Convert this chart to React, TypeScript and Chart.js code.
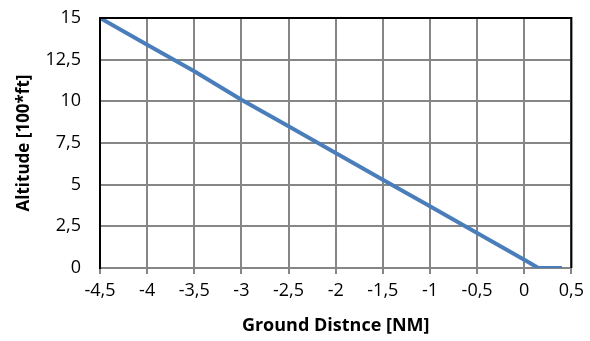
import React, { useEffect, useRef } from "react";
import { Chart, registerables } from "chart.js";

Chart.register(...registerables);

const distances: number[] = [-4.5, -4, -3.5, -3, -2.5, -2, -1.5, -1, -0.5, 0, 0.15, 0.4];
const altitudes: number[] = [15.0, 13.4, 11.8, 10.1, 8.5, 6.9, 5.3, 3.7, 2.1, 0.5, 0, 0];

const xTickValues: number[] = [-4.5, -4, -3.5, -3, -2.5, -2, -1.5, -1, -0.5, 0, 0.5];
const yTickValues: number[] = [0, 2.5, 5, 7.5, 10, 12.5, 15];

const xTitle = "Ground Distnce [NM]";
const yTitle = "Altitude [100*ft]";

const fmt = (v: number) => String(v).replace(".", ",");

export default function App() {
  const ref = useRef<HTMLCanvasElement>(null);
  useEffect(() => {
    document.body.style.margin = "0";
    const ctx = ref.current!;
    const font = "'Open Sans', 'Liberation Sans', sans-serif";
    const chart = new Chart(ctx, {
      type: "scatter",
      data: {
        datasets: [
          {
            data: distances.map((d, i) => ({ x: d, y: altitudes[i] })),
            showLine: true,
            borderColor: "#4A7EBB",
            borderWidth: 4,
            pointRadius: 0,
            tension: 0,
          },
        ],
      },
      options: {
        animation: false,
        responsive: false,
        devicePixelRatio: 1,
        layout: { padding: { left: 0, right: 18, top: 18, bottom: 4 } },
        plugins: { legend: { display: false }, tooltip: { enabled: false } },
        scales: {
          x: {
            type: "linear",
            min: -4.5,
            max: 0.5,
            afterBuildTicks: (s: any) => {
              s.ticks = xTickValues.map((v) => ({ value: v }));
            },
            afterFit: (s: any) => {
              s.height = 69;
            },
            border: { color: "#868686", width: 2 },
            grid: { color: "#868686", lineWidth: 2, tickLength: 6, drawTicks: true },
            ticks: {
              color: "#000",
              font: { family: font, size: 18 },
              padding: 6,
              maxRotation: 0,
              autoSkip: false,
              callback: (v: any) => fmt(Number(v)),
            },
            title: {
              display: true,
              text: xTitle,
              color: "#000",
              font: { family: font, size: 18, weight: "bold" },
              padding: { top: 0, bottom: 0 },
            },
          },
          y: {
            min: 0,
            max: 15,
            afterBuildTicks: (s: any) => {
              s.ticks = yTickValues.map((v) => ({ value: v }));
            },
            afterFit: (s: any) => {
              s.width = 100;
              s.paddingTop = 0;
              s.paddingBottom = 0;
            },
            border: { color: "#000", width: 2 },
            grid: { color: "#868686", lineWidth: 2, drawTicks: false },
            ticks: {
              color: "#000",
              font: { family: font, size: 18 },
              padding: 19,
              autoSkip: false,
              callback: (v: any) => fmt(Number(v)),
            },
            title: {
              display: true,
              text: yTitle,
              color: "#000",
              font: { family: font, size: 17, weight: "bold" },
              padding: { top: 14, bottom: 0 },
            },
          },
        },
      },
      plugins: [
        {
          id: "frame",
          afterDraw: (c: any) => {
            const { left, right, top, bottom } = c.chartArea;
            const g = c.ctx;
            g.save();
            g.strokeStyle = "#000";
            g.lineWidth = 2;
            g.beginPath();
            g.moveTo(left, bottom);
            g.lineTo(left, top);
            g.lineTo(right, top);
            g.lineTo(right, bottom);
            g.stroke();
            g.restore();
          },
        },
      ],
    } as any);
    return () => chart.destroy();
  }, []);
  return (
    <div style={{ position: "absolute", left: 0, top: 0, width: 590, height: 341, background: "#fff" }}>
      <canvas ref={ref} width={590} height={341} style={{ width: 590, height: 341 }} />
    </div>
  );
}
